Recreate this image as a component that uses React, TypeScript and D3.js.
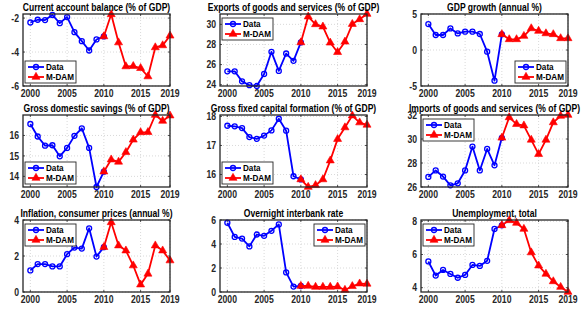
import React from "react";
import * as d3 from "d3";

const dataYears = [2000, 2001, 2002, 2003, 2004, 2005, 2006, 2007, 2008, 2009, 2010];
const modelYears = [2010, 2011, 2012, 2013, 2014, 2015, 2016, 2017, 2018, 2019];
const xTicks = [2000, 2005, 2010, 2015, 2019];

const titles = [
  "Current account balance (% of GDP)",
  "Exports of goods and services (% of GDP)",
  "GDP growth (annual %)",
  "Gross domestic savings (% of GDP)",
  "Gross fixed capital formation (% of GDP)",
  "Imports of goods and services (% of GDP)",
  "Inflation, consumer prices (annual %)",
  "Overnight interbank rate",
  "Unemployment, total",
];

const caData = [-2.26, -2.1, -2.12, -1.82, -2.3, -1.94, -2.83, -3.36, -3.91, -3.26, -3.08];
const caModel = [-3.08, -1.78, -3.44, -4.85, -4.83, -4.95, -5.44, -3.73, -3.61, -3.04];
const exData = [25.33, 25.33, 24.33, 23.95, 23.87, 25.07, 27.27, 25.37, 27.1, 26.37, 28.2];
const exModel = [28.2, 30.77, 30.0, 29.77, 28.17, 27.23, 28.27, 30.03, 30.5, 31.03];
const gdpData = [3.6, 2.08, 2.08, 3.0, 2.3, 2.55, 2.55, 2.22, -0.23, -4.26, 2.18];
const gdpModel = [2.18, 1.48, 1.48, 1.94, 3.0, 2.64, 2.3, 2.18, 1.62, 1.62];
const savData = [16.56, 15.95, 15.5, 15.52, 14.98, 15.39, 15.98, 16.35, 15.39, 13.48, 14.23];
const savModel = [14.23, 14.82, 14.71, 15.18, 15.79, 16.15, 16.16, 17.0, 16.71, 16.97];
const gfcData = [17.68, 17.66, 17.6, 17.29, 17.23, 17.34, 17.52, 17.92, 17.51, 15.94, 15.83];
const gfcModel = [15.83, 15.57, 15.63, 15.83, 16.48, 17.22, 17.62, 18.03, 17.79, 17.71];
const imData = [26.84, 27.38, 26.87, 26.14, 26.31, 27.38, 29.37, 27.38, 29.17, 27.81, 30.1];
const imModel = [30.1, 31.8, 31.24, 31.12, 29.93, 28.74, 29.93, 31.38, 31.92, 32.0];
const infData = [1.2, 1.55, 1.55, 1.42, 1.42, 2.1, 2.47, 2.41, 3.54, 1.97, 2.49];
const infModel = [2.49, 3.87, 2.58, 2.3, 1.47, 0.41, 1.01, 2.58, 2.3, 1.75];
const rateData = [5.77, 4.59, 4.45, 3.8, 4.79, 4.68, 5.1, 5.63, 1.63, 0.45, 0.5];
const rateModel = [0.5, 0.5, 0.42, 0.42, 0.42, 0.45, 0.17, 0.48, 0.7, 0.68];
const unData = [5.58, 4.73, 5.07, 4.83, 4.6, 4.77, 5.37, 5.31, 5.62, 7.54, 7.76];
const unModel = [7.76, 8.06, 7.9, 7.54, 6.12, 5.33, 4.83, 4.38, 4.04, 3.74];

const dataSeries = [caData, exData, gdpData, savData, gfcData, imData, infData, rateData, unData];
const modelSeries = [caModel, exModel, gdpModel, savModel, gfcModel, imModel, infModel, rateModel, unModel];

const yTicks = [
  [-6, -4, -2],
  [24, 26, 28, 30],
  [-5, 0, 5],
  [14, 15, 16],
  [16, 17, 18],
  [26, 28, 30, 32],
  [0, 2, 4],
  [0, 2, 4, 6],
  [4, 6, 8],
];
const yLimits = [
  [-6, -1.76],
  [23.87, 31.03],
  [-5, 5],
  [13.48, 17.0],
  [15.57, 18.05],
  [26, 32],
  [0, 4],
  [0, 6],
  [3.74, 8.08],
];
const legendCorners = ["sw", "nw", "se", "sw", "sw", "nw", "nw", "ne", "nw"];
const legendLabels = ["Data", "M-DAM"];

const colLeft = [23, 220, 421];
const rowTop = [14, 115, 220];
const W = 147;
const H = 72;
const SX = 0.84;
const FONT = "'Liberation Sans', Arial, sans-serif";
const BLUE = "#0000ff";
const RED = "#ff0000";

const tri = d3.symbol().type(d3.symbolTriangle).size(28)() as string;

function Panel({ i }: { i: number }) {
  const col = i % 3;
  const row = Math.floor(i / 3);
  const x0 = colLeft[col];
  const y0 = rowTop[row];
  const x = d3.scaleLinear().domain([1999, 2019]).range([x0, x0 + W]);
  const y = d3.scaleLinear().domain(yLimits[i]).range([y0 + H, y0]);
  const line = d3
    .line<[number, number]>()
    .x((d) => x(d[0]))
    .y((d) => y(d[1]));
  const dPts: [number, number][] = dataYears.map((yr, k) => [yr, dataSeries[i][k]]);
  const mPts: [number, number][] = modelYears.map((yr, k) => [yr, modelSeries[i][k]]);

  const lw = 51;
  const lh = 22;
  const corner = legendCorners[i];
  const lx = corner.includes("w") ? x0 + 2 : x0 + W - 2 - lw;
  const ly = corner.includes("n") ? y0 + 4 : y0 + H - 3 - lh;

  return (
    <g>
      {xTicks.map((t) => (
        <line key={"gx" + t} x1={x(t)} x2={x(t)} y1={y0} y2={y0 + H} stroke="#cfcfcf" strokeWidth={0.8} strokeDasharray="1,2" />
      ))}
      {yTicks[i].map((t) => (
        <line key={"gy" + t} x1={x0} x2={x0 + W} y1={y(t)} y2={y(t)} stroke="#cfcfcf" strokeWidth={0.8} strokeDasharray="1,2" />
      ))}
      {xTicks.map((t) => (
        <g key={"tx" + t}>
          <line x1={x(t)} x2={x(t)} y1={y0 + H} y2={y0 + H - 2} stroke="#262626" strokeWidth={0.8} />
          <line x1={x(t)} x2={x(t)} y1={y0} y2={y0 + 2} stroke="#262626" strokeWidth={0.8} />
          <text
            transform={`translate(${x(t)},${y0 + H + 11}) scale(${SX},1)`}
            textAnchor="middle"
            fontSize={10.3}
            fontWeight="bold"
            fontFamily={FONT}
            fill="#262626"
          >
            {t}
          </text>
        </g>
      ))}
      {yTicks[i].map((t) => (
        <g key={"ty" + t}>
          <line x1={x0} x2={x0 + 2} y1={y(t)} y2={y(t)} stroke="#262626" strokeWidth={0.8} />
          <line x1={x0 + W} x2={x0 + W - 2} y1={y(t)} y2={y(t)} stroke="#262626" strokeWidth={0.8} />
          <text
            transform={`translate(${x0 - 4},${y(t) + 3.6}) scale(${SX},1)`}
            textAnchor="end"
            fontSize={10.3}
            fontWeight="bold"
            fontFamily={FONT}
            fill="#262626"
          >
            {t}
          </text>
        </g>
      ))}
      <path d={line(dPts) as string} fill="none" stroke={BLUE} strokeWidth={1.8} strokeLinejoin="round" />
      {dPts.map((p, k) => (
        <circle key={"c" + k} cx={x(p[0])} cy={y(p[1])} r={2.5} fill="none" stroke={BLUE} strokeWidth={1.3} />
      ))}
      <path d={line(mPts) as string} fill="none" stroke={RED} strokeWidth={1.8} strokeLinejoin="round" />
      {mPts.map((p, k) => (
        <path key={"t" + k} d={tri} transform={`translate(${x(p[0])},${y(p[1])})`} fill={RED} stroke={RED} strokeWidth={0.6} />
      ))}
      <rect x={x0} y={y0} width={W} height={H} fill="none" stroke="#262626" strokeWidth={1.3} />
      <text
        transform={`translate(${x0 + W / 2},${y0 - 3.5}) scale(${SX},1)`}
        textAnchor="middle"
        fontSize={10.2}
        fontWeight="bold"
        fontFamily={FONT}
        fill="#000"
      >
        {titles[i]}
      </text>
      <g>
        <rect x={lx} y={ly} width={lw} height={lh} fill="#fff" stroke="#262626" strokeWidth={0.9} />
        {legendLabels.map((lab, k) => {
          const cy = ly + 6 + k * 10;
          const color = k === 0 ? BLUE : RED;
          return (
            <g key={lab}>
              <line x1={lx + 3} x2={lx + 19} y1={cy} y2={cy} stroke={color} strokeWidth={1.8} />
              {k === 0 ? (
                <circle cx={lx + 11} cy={cy} r={2.5} fill="none" stroke={BLUE} strokeWidth={1.3} />
              ) : (
                <path d={tri} transform={`translate(${lx + 11},${cy})`} fill={RED} stroke={RED} strokeWidth={0.6} />
              )}
              <text
                transform={`translate(${lx + 21},${cy + 3.3}) scale(${SX},1)`}
                fontSize={9.7}
                fontWeight="bold"
                fontFamily={FONT}
                fill="#000"
              >
                {lab}
              </text>
            </g>
          );
        })}
      </g>
    </g>
  );
}

export default function App() {
  return (
    <svg
      width={586}
      height={314}
      style={{ position: "absolute", left: 0, top: 0, background: "#fff" }}
    >
      <rect x={0} y={0} width={586} height={314} fill="#fff" />
      {titles.map((_, i) => (
        <Panel key={i} i={i} />
      ))}
    </svg>
  );
}
